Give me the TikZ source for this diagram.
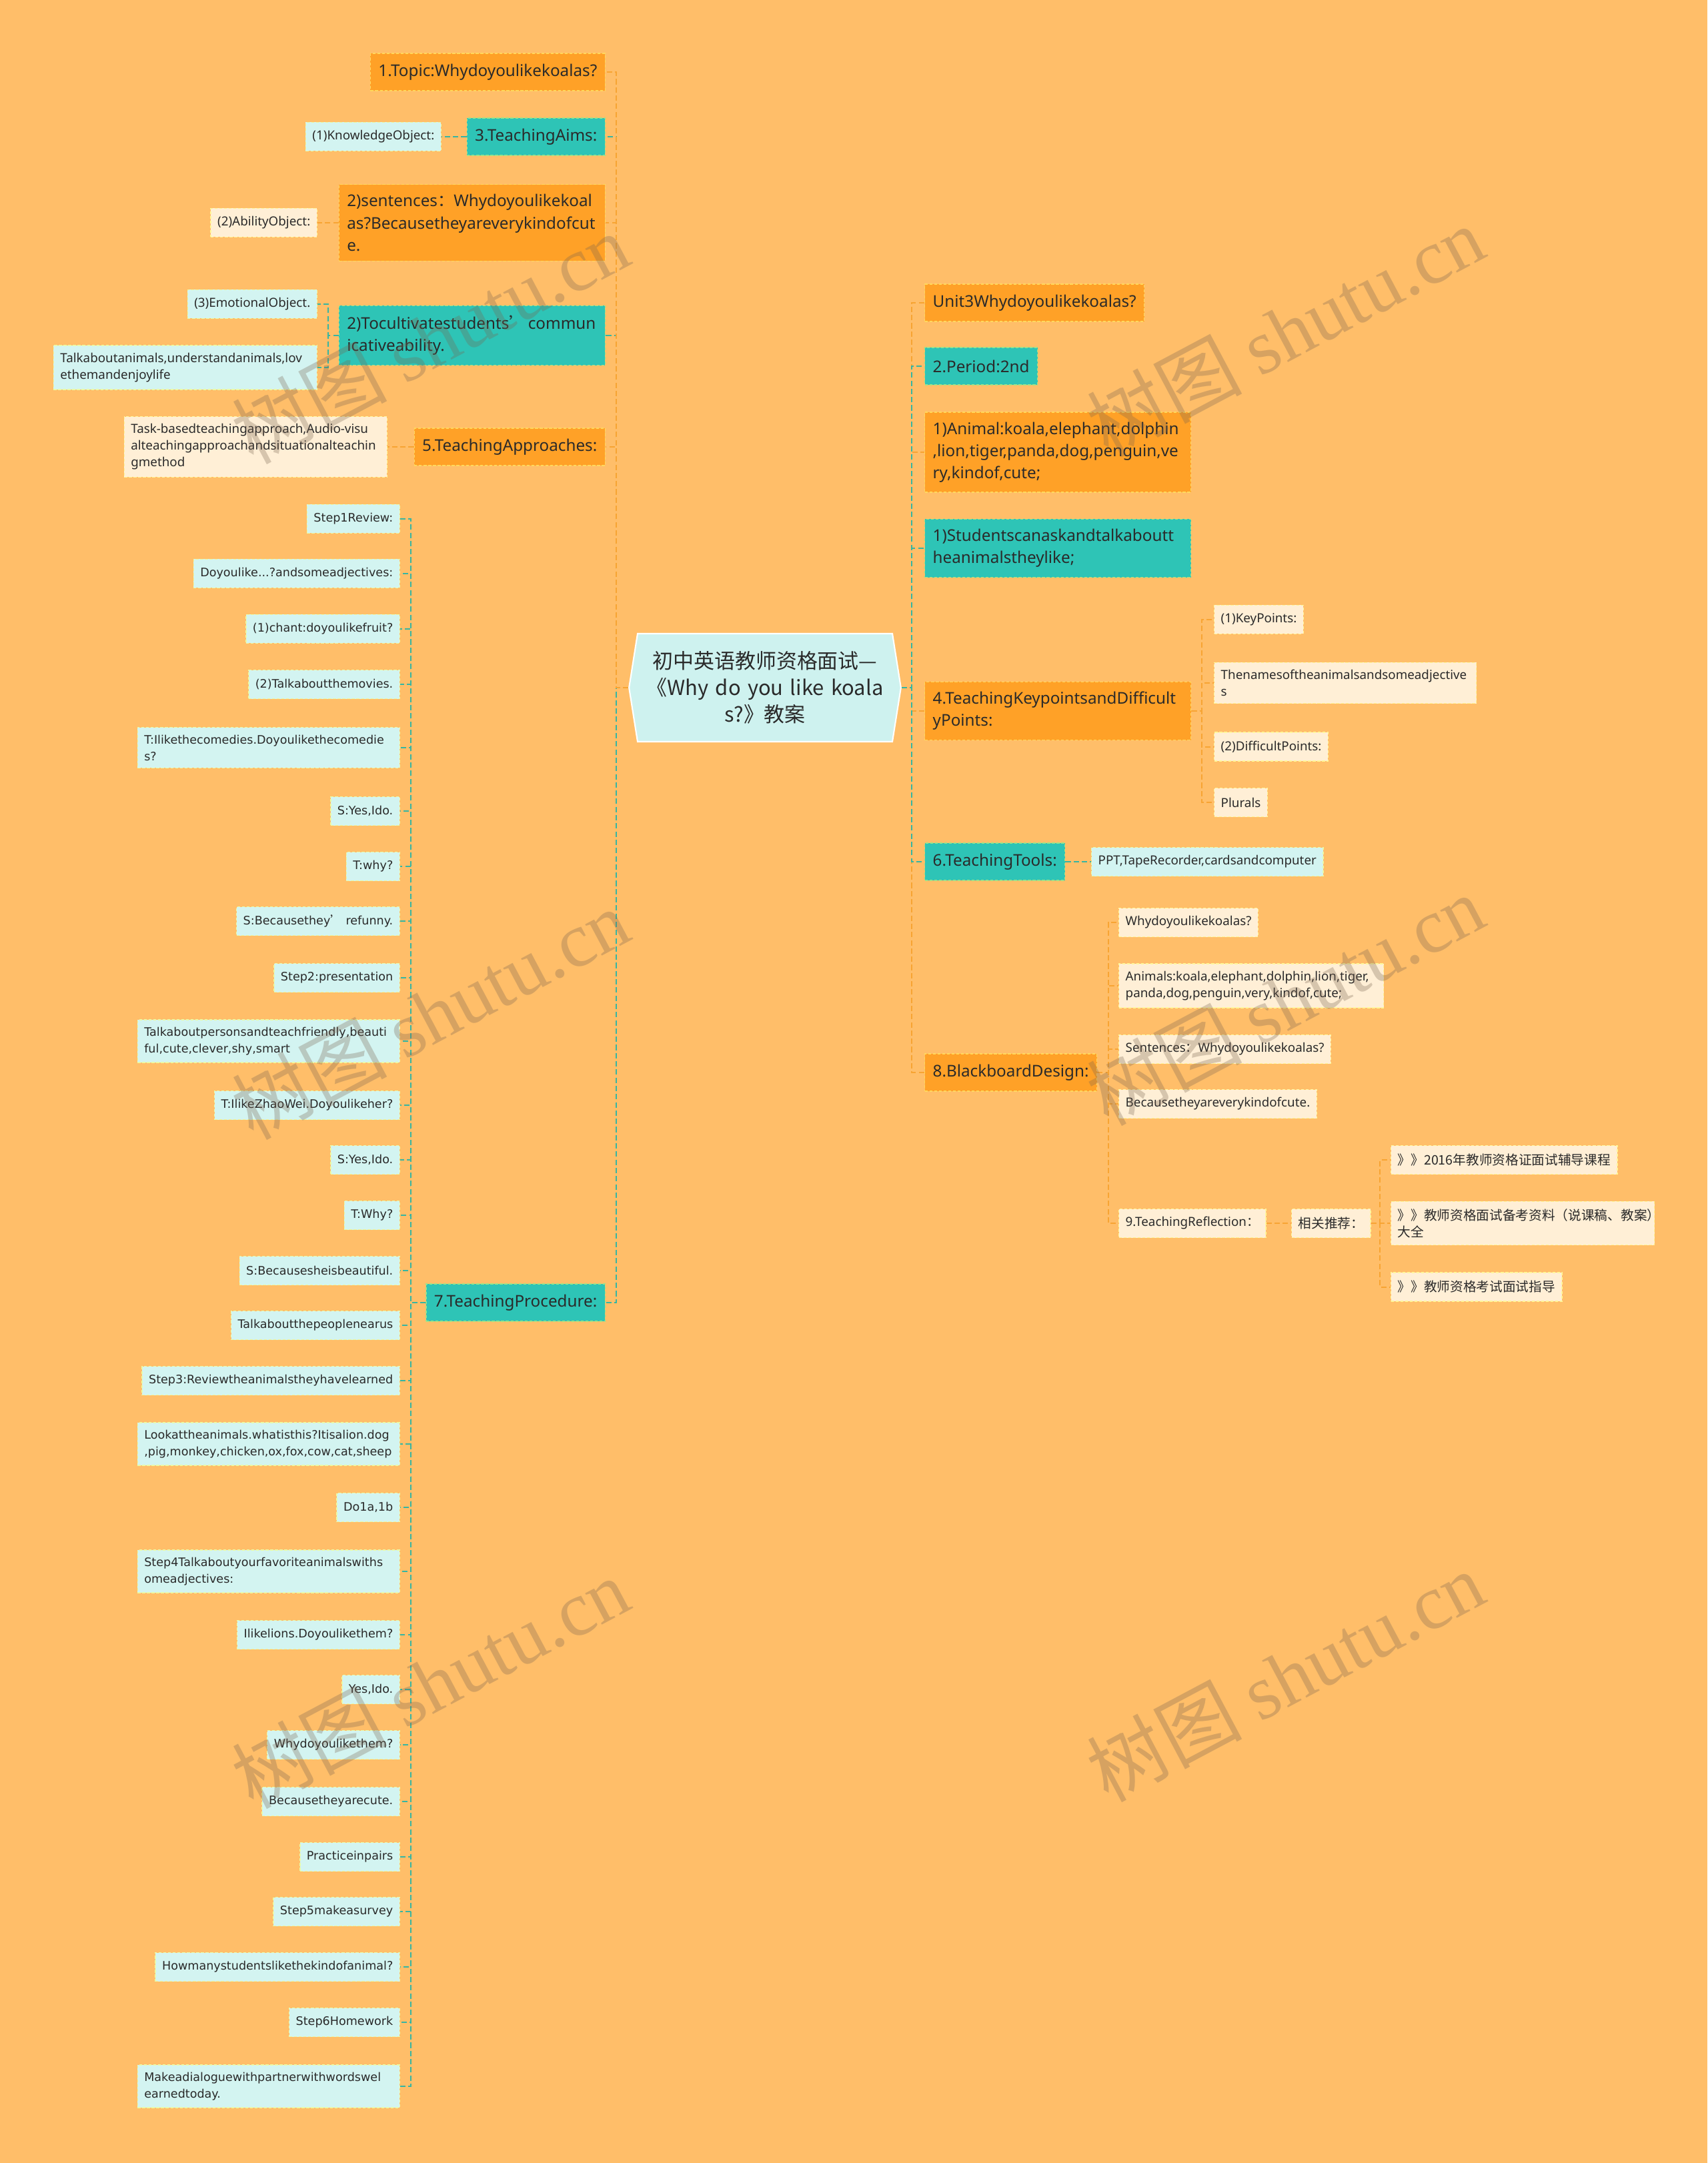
\documentclass[tikz,border=0pt]{standalone}
\usepackage{fontspec}
\setmainfont{Noto Sans}
\newfontfamily\cjk{Noto Sans CJK SC}
\newfontfamily\verd{DejaVu Sans}
\newfontfamily\wmserif{Liberation Serif}
\usetikzlibrary{shapes.symbols}

\definecolor{bgpeach}{HTML}{FFBE69}
\definecolor{boxorange}{HTML}{FFA127}
\definecolor{boxteal}{HTML}{2EC4B6}
\definecolor{leafcyan}{HTML}{D3F4F1}
\definecolor{leafcream}{HTML}{FFEFD6}
\definecolor{rootcyan}{HTML}{CEF2EF}
\definecolor{lineorange}{HTML}{F7A433}
\definecolor{lineteal}{HTML}{36B5A2}
\definecolor{inkdark}{HTML}{2A2A2A}
\definecolor{wmbrown}{HTML}{7A6450}

\newcommand\zh[1]{{\cjk #1}}

\tikzset{
  topbox/.style={rectangle,inner xsep=0.12cm,inner ysep=0.15cm,minimum height=0.56cm,
                 font=\fontsize{6.9}{9.4}\selectfont,text=inkdark,dashed,line width=0.4pt,
                 dash pattern=on 1.2pt off 0.8pt},
  orgbox/.style={topbox,fill=boxorange,draw=boxorange!60!yellow!70!white},
  tealbox/.style={topbox,fill=boxteal,draw=boxteal!60!yellow!80!white},
  leafbox/.style={rectangle,inner xsep=0.1cm,inner ysep=0.11cm,minimum height=0.43cm,
                 font=\fontsize{5.35}{7.1}\selectfont,text=inkdark,dashed,line width=0.4pt,
                 dash pattern=on 1.2pt off 0.8pt},
  cyanleaf/.style={leafbox,fill=leafcyan,draw=leafcyan!60!yellow!80!white},
  creamleaf/.style={leafbox,fill=leafcream,draw=leafcream!60!yellow!80!white},
  stepleaf/.style={cyanleaf,font=\verd\fontsize{5}{7.1}\selectfont},
  zhleaf/.style={creamleaf,font=\cjk\fontsize{5.6}{7.1}\selectfont},
  wrap/.style={text width=#1,align=left},
  linkbase/.style={line width=0.57pt,dash pattern=on 2.3pt off 1.2pt},
  orgline/.style={linkbase,draw=lineorange},
  tealline/.style={linkbase,draw=lineteal},
  wmark/.style={rotate=28,text=wmbrown,opacity=0.3,font=\fontsize{33}{33}\selectfont}
}

\begin{document}
\begin{tikzpicture}
  \fill[bgpeach](0,0)rectangle(25.6,-32.43);
  \useasboundingbox(0,0)rectangle(25.6,-32.43);

  % root
  \node[signal,signal to=east and west,signal pointer angle=162,fill=rootcyan,draw=white,
        line width=0.6pt,text width=3.7cm,align=center,inner xsep=0.06cm,minimum height=1.62cm,
        font=\cjk\fontsize{8.8}{11.4}\selectfont,text=inkdark]
        (root)at(11.47,-10.31){初中英语教师资格面试—\\《Why do you like koala\\s?》教案};

  % left side
  \node[orgbox,anchor=east](topic)at(9.08,-1.08){1.Topic:Whydoyoulikekoalas?};
  \node[tealbox,anchor=east](aims)at(9.08,-2.05){3.TeachingAims:};
  \node[cyanleaf,anchor=east](knowobj)at(6.62,-2.05){(1)KnowledgeObject:};
  \node[orgbox,anchor=east,wrap=3.75cm](sent)at(9.08,-3.34)
       {2)sentences\zh{：}Whydoyoulikekoal\\as?Becausetheyareverykindofcut\\e.};
  \node[creamleaf,anchor=east](abilobj)at(4.76,-3.34){(2)AbilityObject:};
  \node[tealbox,anchor=east,wrap=3.75cm](cultiv)at(9.08,-5.03)
       {\mbox{2)Tocultivatestudents\zh{’}\,commun}\\icativeability.};
  \node[cyanleaf,anchor=east](emoobj)at(4.76,-4.56){(3)EmotionalObject.};
  \node[cyanleaf,anchor=east,wrap=3.75cm](talkani)at(4.76,-5.51)
       {Talkaboutanimals,understandanimals,lov\\ethemandenjoylife};
  \node[orgbox,anchor=east](approach)at(9.08,-6.70){5.TeachingApproaches:};
  \node[creamleaf,anchor=east,wrap=3.74cm](taskb)at(5.81,-6.70)
       {Task-basedteachingapproach,Audio-visu\\alteachingapproachandsituationalteachin\\gmethod};
  \node[tealbox,anchor=east](proc)at(9.08,-19.53){7.TeachingProcedure:};

  % teaching procedure steps
  \node[stepleaf,anchor=east](st1)at(6.00,-7.78){Step1Review:};
  \node[stepleaf,anchor=east](st2)at(6.00,-8.60){Doyoulike...?andsomeadjectives:};
  \node[stepleaf,anchor=east](st3)at(6.00,-9.43){(1)chant:doyoulikefruit?};
  \node[stepleaf,anchor=east](st4)at(6.00,-10.26){(2)Talkaboutthemovies.};
  \node[stepleaf,anchor=east,wrap=3.73cm](st5)at(6.00,-11.21)
       {T:Ilikethecomedies.Doyoulikethecomedie\\s?};
  \node[stepleaf,anchor=east](st6)at(6.00,-12.16){S:Yes,Ido.};
  \node[stepleaf,anchor=east](st7)at(6.00,-12.99){T:why?};
  \node[stepleaf,anchor=east](st8)at(6.00,-13.81){S:Becausethey\zh{’} refunny.};
  \node[stepleaf,anchor=east](st9)at(6.00,-14.66){Step2:presentation};
  \node[stepleaf,anchor=east,wrap=3.73cm](st10)at(6.00,-15.61)
       {Talkaboutpersonsandteachfriendly,beauti\\ful,cute,clever,shy,smart};
  \node[stepleaf,anchor=east](st11)at(6.00,-16.57){T:IlikeZhaoWei.Doyoulikeher?};
  \node[stepleaf,anchor=east](st12)at(6.00,-17.39){S:Yes,Ido.};
  \node[stepleaf,anchor=east](st13)at(6.00,-18.22){T:Why?};
  \node[stepleaf,anchor=east](st14)at(6.00,-19.05){S:Becausesheisbeautiful.};
  \node[stepleaf,anchor=east](st15)at(6.00,-19.87){Talkaboutthepeoplenearus};
  \node[stepleaf,anchor=east](st16)at(6.00,-20.70){Step3:Reviewtheanimalstheyhavelearned};
  \node[stepleaf,anchor=east,wrap=3.73cm](st17)at(6.00,-21.65)
       {Lookattheanimals.whatisthis?Itisalion.dog\\,pig,monkey,chicken,ox,fox,cow,cat,sheep};
  \node[stepleaf,anchor=east](st18)at(6.00,-22.60){Do1a,1b};
  \node[stepleaf,anchor=east,wrap=3.73cm](st19)at(6.00,-23.56)
       {Step4Talkaboutyourfavoriteanimalswiths\\omeadjectives:};
  \node[stepleaf,anchor=east](st20)at(6.00,-24.51){Ilikelions.Doyoulikethem?};
  \node[stepleaf,anchor=east](st21)at(6.00,-25.33){Yes,Ido.};
  \node[stepleaf,anchor=east](st22)at(6.00,-26.16){Whydoyoulikethem?};
  \node[stepleaf,anchor=east](st23)at(6.00,-27.01){Becausetheyarecute.};
  \node[stepleaf,anchor=east](st24)at(6.00,-27.84){Practiceinpairs};
  \node[stepleaf,anchor=east](st25)at(6.00,-28.66){Step5makeasurvey};
  \node[stepleaf,anchor=east](st26)at(6.00,-29.49){Howmanystudentslikethekindofanimal?};
  \node[stepleaf,anchor=east](st27)at(6.00,-30.32){Step6Homework};
  \node[stepleaf,anchor=east,wrap=3.73cm](st28)at(6.00,-31.28)
       {Makeadialoguewithpartnerwithwordswel\\earnedtoday.};

  % right side
  \node[orgbox,anchor=west](unit)at(13.86,-4.54){Unit3Whydoyoulikekoalas?};
  \node[tealbox,anchor=west](period)at(13.86,-5.49){2.Period:2nd};
  \node[orgbox,anchor=west,wrap=3.75cm](animal)at(13.86,-6.78)
       {1)Animal:koala,elephant,dolphin\\,lion,tiger,panda,dog,penguin,ve\\ry,kindof,cute;};
  \node[tealbox,anchor=west,wrap=3.75cm](students)at(13.86,-8.22)
       {1)Studentscanaskandtalkaboutt\\heanimalstheylike;};
  \node[orgbox,anchor=west,wrap=3.75cm](kpts)at(13.86,-10.66)
       {4.TeachingKeypointsandDifficult\\yPoints:};
  \node[creamleaf,anchor=west](keyp)at(18.20,-9.29){(1)KeyPoints:};
  \node[creamleaf,anchor=west,wrap=3.73cm](names)at(18.20,-10.24)
       {Thenamesoftheanimalsandsomeadjective\\s};
  \node[creamleaf,anchor=west](diffp)at(18.20,-11.195){(2)DifficultPoints:};
  \node[creamleaf,anchor=west](plurals)at(18.20,-12.03){Plurals};
  \node[tealbox,anchor=west](tools)at(13.86,-12.92){6.TeachingTools:};
  \node[cyanleaf,anchor=west](ppt)at(16.36,-12.92){PPT,TapeRecorder,cardsandcomputer};
  \node[orgbox,anchor=west](board)at(13.86,-16.08){8.BlackboardDesign:};
  \node[creamleaf,anchor=west](bwhy)at(16.77,-13.83){Whydoyoulikekoalas?};
  \node[creamleaf,anchor=west,wrap=3.77cm](banimals)at(16.77,-14.78)
       {Animals:koala,elephant,dolphin,lion,tiger,\\panda,dog,penguin,very,kindof,cute;};
  \node[creamleaf,anchor=west](bsent)at(16.77,-15.73){Sentences\zh{：}Whydoyoulikekoalas?};
  \node[creamleaf,anchor=west](bbecause)at(16.77,-16.55){Becausetheyareverykindofcute.};
  \node[creamleaf,anchor=west](reflect)at(16.77,-18.34){9.TeachingReflection\zh{：}};
  \node[zhleaf,anchor=west](recom)at(19.36,-18.34){相关推荐：};
  \node[zhleaf,anchor=west](rec1)at(20.85,-17.39){》》2016年教师资格证面试辅导课程};
  \node[zhleaf,anchor=west,wrap=3.75cm](rec2)at(20.85,-18.34)
       {》》教师资格面试备考资料（说课稿、教案）\\大全};
  \node[zhleaf,anchor=west](rec3)at(20.85,-19.295){》》教师资格考试面试指导};

  % connectors
  \coordinate(lspine)at(9.24,-10.31);
  \coordinate(rspine)at(13.67,-10.31);
  \coordinate(cspine)at(4.92,-5.03);
  \coordinate(pspine)at(6.16,-19.53);
  \coordinate(kspine)at(18.02,-10.66);
  \coordinate(bspine)at(16.62,-16.08);
  \coordinate(rcspine)at(20.69,-18.34);

  \foreach \c in {proc,cultiv,aims}
    \draw[tealline](root.west)--(lspine)|-(\c.east);
  \foreach \c in {approach,sent,topic}
    \draw[orgline](root.west)--(lspine)|-(\c.east);
  \foreach \c in {unit,animal,kpts,board}
    \draw[orgline](root.east)--(rspine)|-(\c.west);
  \foreach \c in {period,students,tools}
    \draw[tealline](root.east)--(rspine)|-(\c.west);

  \draw[tealline](aims.west)--(knowobj.east);
  \draw[orgline](sent.west)--(abilobj.east);
  \foreach \c in {emoobj,talkani}
    \draw[tealline](cultiv.west)--(cspine)|-(\c.east);
  \draw[orgline](approach.west)--(taskb.east);
  \foreach \i in {1,...,28}
    \draw[tealline](proc.west)--(pspine)|-(st\i.east);

  \foreach \c in {keyp,names,diffp,plurals}
    \draw[orgline](kpts.east)--(kspine)|-(\c.west);
  \draw[tealline](tools.east)--(ppt.west);
  \foreach \c in {bwhy,banimals,bsent,bbecause,reflect}
    \draw[orgline](board.east)--(bspine)|-(\c.west);
  \draw[orgline](reflect.east)--(recom.west);
  \foreach \c in {rec1,rec2,rec3}
    \draw[orgline](recom.east)--(rcspine)|-(\c.west);

  % watermarks
  \foreach \x/\y [count=\k] in {6.45/-5.07,19.27/-4.96,6.45/-15.20,19.27/-14.99,6.45/-25.23,19.27/-25.13}
    \node[wmark](wm\k)at(\x,\y){\cjk 树图 \wmserif shutu.cn};
\end{tikzpicture}
\end{document}
